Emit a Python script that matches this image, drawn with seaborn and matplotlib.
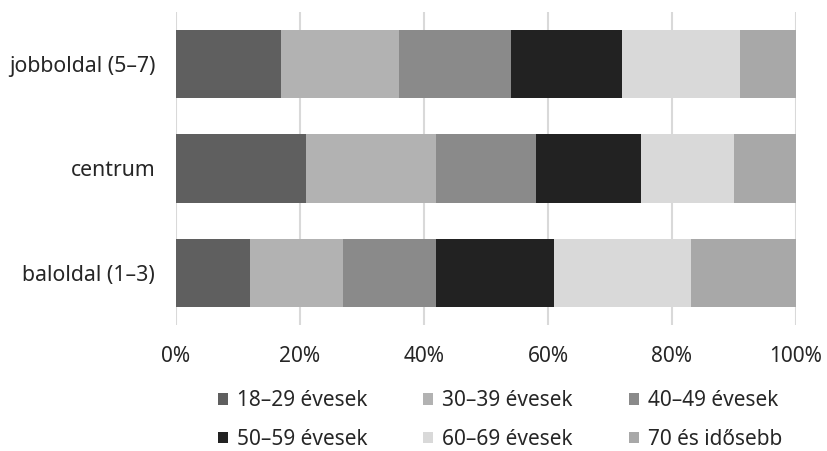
import matplotlib
matplotlib.use("Agg")
import matplotlib.pyplot as plt
import seaborn as sns
import pandas as pd
import numpy as np
from matplotlib.patches import Patch

categories = ["jobboldal (5–7)", "centrum", "baloldal (1–3)"]
age_groups = ["18–29 évesek", "30–39 évesek", "40–49 évesek",
              "50–59 évesek", "60–69 évesek", "70 és idősebb"]
jobboldal = [17, 19, 18, 18, 19, 9]
centrum = [21, 21, 16, 17, 15, 10]
baloldal = [12, 15, 15, 19, 22, 17]
colors = ["#5f5f5f", "#b2b2b2", "#8a8a8a", "#222222", "#d9d9d9", "#a8a8a8"]
xticks = [0, 20, 40, 60, 80, 100]
xtick_labels = ["0%", "20%", "40%", "60%", "80%", "100%"]

sns.set_theme(style="white")
plt.rcParams["font.family"] = ["Noto Sans", "DejaVu Sans"]
text_color = "#262626"
fs = 15

values = np.array([jobboldal, centrum, baloldal], dtype=float)
cum = np.cumsum(values, axis=1)

fig = plt.figure(figsize=(8.27, 4.51), dpi=100)
ax = fig.add_axes([176/827, 1-325/451, 620/827, 313/451])

# grid lines
for xv in xticks:
    ax.axvline(xv, color="#d9d9d9", lw=1.5, zorder=0)

# stacked bars via overlaid cumulative totals
for i in reversed(range(len(age_groups))):
    df = pd.DataFrame({"cat": categories, "val": cum[:, i]})
    sns.barplot(data=df, y="cat", x="val", order=categories, color=colors[i],
                width=0.655, saturation=1, ax=ax, zorder=2,
                edgecolor="none", linewidth=0)

ax.set_xlim(0, 100)
ax.set_ylim(2.5, -0.5)
ax.set_xticks(xticks)
ax.set_xticklabels(xtick_labels)
ax.set_xlabel("")
ax.set_ylabel("")
for s in ax.spines.values():
    s.set_visible(False)
ax.tick_params(axis="x", length=0, pad=15, labelsize=fs, labelcolor=text_color)
ax.tick_params(axis="y", length=0, pad=15, labelsize=fs + 0.3, labelcolor=text_color)

handles = [Patch(facecolor=c, edgecolor="none", label=l) for c, l in zip(colors, age_groups)]
order = [0, 3, 1, 4, 2, 5]
leg = fig.legend([handles[k] for k in order], [age_groups[k] for k in order],
                 ncol=3, loc="center", bbox_to_anchor=(500/827, 1-420/451),
                 frameon=False, fontsize=fs, handlelength=0.48, handleheight=0.48,
                 handletextpad=0.43, columnspacing=2.7, labelspacing=0.85,
                 borderpad=0, borderaxespad=0)
for t in leg.get_texts():
    t.set_color(text_color)

fig.savefig("out.png", dpi=100)
